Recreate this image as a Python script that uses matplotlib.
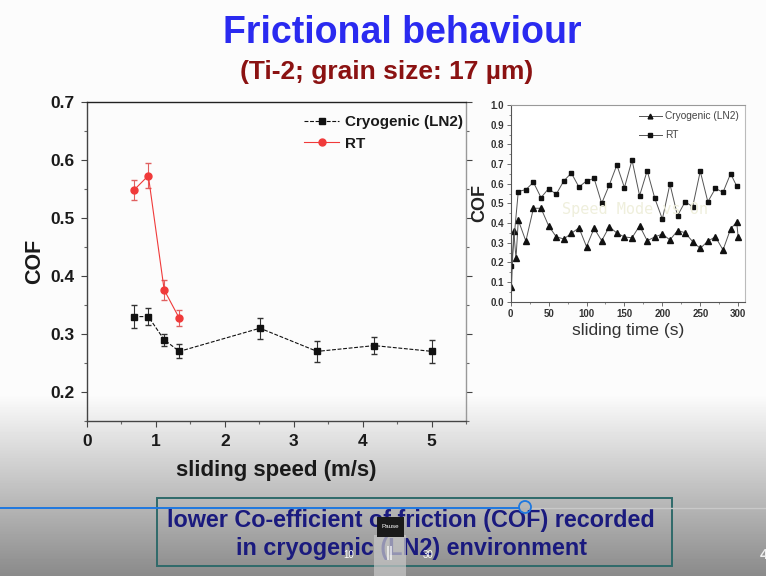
import numpy as np
import matplotlib
matplotlib.use("Agg")
import matplotlib.pyplot as plt
from matplotlib.patches import Rectangle, Circle
from matplotlib.lines import Line2D
from matplotlib.ticker import MultipleLocator, FormatStrFormatter

plt.rcParams['font.family'] = ['Liberation Sans', 'DejaVu Sans']

# ---- COF vs sliding speed ----
speed_cryo = [0.68, 0.89, 1.12, 1.34, 2.51, 3.34, 4.17, 5.01]
cof_cryo = [0.33, 0.33, 0.29, 0.27, 0.31, 0.27, 0.28, 0.27]
err_cryo = [0.020, 0.014, 0.010, 0.012, 0.018, 0.018, 0.015, 0.020]

speed_rt = [0.68, 0.89, 1.12, 1.34]
cof_rt = [0.548, 0.573, 0.376, 0.327]
err_rt = [0.017, 0.022, 0.017, 0.014]

# ---- COF vs sliding time ----
time_rt = [1, 10, 20, 30, 40, 50, 60, 70, 80, 90, 100, 110, 120, 130, 140, 150,
           160, 170, 180, 190, 200, 210, 220, 230, 240, 250, 260, 270, 280, 290, 298]
cof_t_rt = [0.18, 0.56, 0.57, 0.607, 0.529, 0.575, 0.546, 0.614, 0.654, 0.583,
            0.614, 0.627, 0.50, 0.593, 0.695, 0.58, 0.72, 0.539, 0.666, 0.526,
            0.42, 0.598, 0.437, 0.508, 0.483, 0.663, 0.508, 0.576, 0.556, 0.651, 0.588]

time_cryo = [1, 4, 7, 10, 20, 30, 40, 50, 60, 70, 80, 90, 100, 110, 120, 130, 140,
             150, 160, 170, 180, 190, 200, 210, 220, 230, 240, 250, 260, 270, 280,
             290, 298, 300]
cof_t_cryo = [0.075, 0.36, 0.22, 0.415, 0.308, 0.475, 0.475, 0.386, 0.33, 0.319,
              0.347, 0.376, 0.28, 0.373, 0.31, 0.381, 0.349, 0.329, 0.325, 0.386,
              0.31, 0.329, 0.344, 0.314, 0.361, 0.351, 0.305, 0.271, 0.308, 0.33,
              0.263, 0.37, 0.405, 0.33]

W, H = 766, 576
fig = plt.figure(figsize=(W / 100, H / 100), dpi=100)

# slide background with darkening band at the bottom
bg = fig.add_axes([0, 0, 1, 1], zorder=-10)
rows = np.arange(H)
shade = np.clip((rows - 395) * 0.0025, 0, 0.46)
img = np.repeat((0.985 * (1 - shade))[:, None], W, axis=1)
bg.imshow(img, cmap='gray', vmin=0, vmax=1, extent=[0, W, H, 0], aspect='auto')
bg.set_xlim(0, W)
bg.set_ylim(H, 0)
bg.axis('off')


def fx(px):
    return px / W


def fy(py):
    return 1 - py / H


# titles
fig.text(fx(402), fy(33), 'Frictional behaviour', color='#2a2af0', fontsize=27,
         fontweight='bold', ha='center', va='center')
fig.text(fx(387), fy(72), '(Ti-2; grain size: 17 µm)', color='#8b1212', fontsize=19,
         fontweight='bold', ha='center', va='center')

# ---- main panel ----
ax = fig.add_axes([fx(87), fy(421), fx(466) - fx(87), fy(102) - fy(421)])
ax.patch.set_alpha(0)
cryo_ls = (0, (3.5, 1.5))
rt_color = '#f03a3a'
ax.errorbar(speed_cryo, cof_cryo, yerr=err_cryo, color='#111111', ls=cryo_ls,
            lw=0.8, marker='s', ms=5, capsize=2.5, elinewidth=0.8, ecolor='#333333')
ax.errorbar(speed_rt, cof_rt, yerr=err_rt, color=rt_color, ls='-', lw=0.8,
            marker='o', ms=5, capsize=2.5, elinewidth=0.8, ecolor='#e06060')
ax.set_xlim(0, 5.5)
ax.set_ylim(0.15, 0.7)
ax.xaxis.set_major_locator(MultipleLocator(1))
ax.xaxis.set_minor_locator(MultipleLocator(0.5))
ax.yaxis.set_major_locator(MultipleLocator(0.1))
ax.yaxis.set_minor_locator(MultipleLocator(0.05))
ax.yaxis.set_major_formatter(FormatStrFormatter('%.1f'))
ax.tick_params(which='major', direction='out', length=4, width=0.8, color='#444444',
               labelsize=12.5, pad=5, labelcolor='#1a1a1a')
ax.tick_params(which='minor', direction='out', length=2.5, width=0.8, color='#666666')
ax.tick_params(axis='y', which='both', right=True, labelright=False)
for lab in ax.get_xticklabels() + ax.get_yticklabels():
    lab.set_fontweight('bold')
ax.spines['left'].set_color('#444444')
ax.spines['bottom'].set_color('#444444')
ax.spines['top'].set_color('#222222')
ax.spines['right'].set_color('#999999')
for s in ax.spines.values():
    s.set_linewidth(1.0)
ax.set_ylabel('COF', fontsize=15.5, fontweight='bold', labelpad=4, color='#1a1a1a')
ax.set_xlabel('sliding speed (m/s)', fontsize=16, fontweight='bold', labelpad=8,
              color='#1a1a1a')
handles = [Line2D([], [], color='#111111', ls=cryo_ls, lw=0.8, marker='s', ms=5),
           Line2D([], [], color=rt_color, ls='-', lw=0.8, marker='o', ms=5)]
leg = ax.legend(handles, ['Cryogenic (LN2)', 'RT'], loc='upper left',
                bbox_to_anchor=(fx(304), fy(115)), bbox_transform=fig.transFigure,
                frameon=False, fontsize=11, handlelength=2.3, handletextpad=0.4,
                labelspacing=0.5, borderpad=0, borderaxespad=0)
for t in leg.get_texts():
    t.set_fontweight('bold')
    t.set_color('#1a1a1a')

# ---- inset panel: COF vs sliding time ----
ins = fig.add_axes([fx(510.7), fy(301.7), fx(745) - fx(510.7), fy(105) - fy(301.7)])
ins.set_facecolor('white')
ins.plot(time_cryo, cof_t_cryo, color='#555555', lw=0.7, marker='^', ms=4.3,
         mfc='#111111', mec='#111111', label='Cryogenic (LN2)')
ins.plot(time_rt, cof_t_rt, color='#555555', lw=0.7, marker='s', ms=3.5,
         mfc='#111111', mec='#111111', label='RT')
ins.set_xlim(0, 309)
ins.set_ylim(0, 1.0)
ins.xaxis.set_major_locator(MultipleLocator(50))
ins.xaxis.set_minor_locator(MultipleLocator(25))
ins.yaxis.set_major_locator(MultipleLocator(0.1))
ins.yaxis.set_minor_locator(MultipleLocator(0.05))
ins.yaxis.set_major_formatter(FormatStrFormatter('%.1f'))
ins.tick_params(which='major', direction='out', length=3, width=0.6, color='#555555',
                labelsize=7, pad=2, labelcolor='#333333')
ins.tick_params(which='minor', direction='out', length=1.5, width=0.6, color='#777777')
for lab in ins.get_xticklabels() + ins.get_yticklabels():
    lab.set_fontweight('bold')
ins.spines['left'].set_color('#555555')
ins.spines['bottom'].set_color('#555555')
ins.spines['top'].set_color('#999999')
ins.spines['right'].set_color('#bbbbbb')
for s in ins.spines.values():
    s.set_linewidth(0.8)
ins.set_ylabel('COF', fontsize=13, fontweight='bold', labelpad=1, color='#222222')
ins.set_xlabel('sliding time (s)', fontsize=12.5, labelpad=3, color='#333333')
ins.text(0.53, 0.47, 'Speed Mode vs On', transform=ins.transAxes, fontsize=11,
         family='DejaVu Sans Mono', color='#efefdc', ha='center', va='center')
leg2 = ins.legend(loc='upper right', frameon=False, fontsize=7.3, handlelength=2.3,
                  handletextpad=0.3, labelspacing=0.9, borderpad=0.4,
                  borderaxespad=0.2, markerscale=0.8)
for t in leg2.get_texts():
    t.set_color('#444444')

# ---- caption box ----
bg.add_patch(Rectangle((157, 498), 515, 68, fill=False, ec='#2f6a6a', lw=1.4, zorder=3))
bg.text(411, 520, 'lower Co-efficient of friction (COF) recorded', color='#1a1a7e',
        fontsize=16.8, fontweight='bold', ha='center', va='center', zorder=4)
bg.text(411, 548, 'in cryogenic (LN2) environment', color='#1a1a7e',
        fontsize=16.8, fontweight='bold', ha='center', va='center', zorder=4)

# ---- playback bar overlay ----
bg.plot([0, 519], [508, 508], color='#1e78e0', lw=1.4, zorder=5)
bg.plot([531, W], [508, 508], color='#c9c9c9', lw=1.0, zorder=5)
bg.add_patch(Circle((525, 507), 6, fill=False, ec='#1e78e0', lw=1.3, zorder=6))
bg.add_patch(Rectangle((374, 535), 32, 41, fc='#c8c8c8', ec='none', alpha=0.7, zorder=5))
bg.add_patch(Rectangle((377, 517), 27, 20, fc='#1a1a1a', ec='none', zorder=6))
bg.text(390.5, 527, 'Pause', color='white', fontsize=4.5, ha='center', va='center', zorder=7)
bg.text(390, 553, '||', color='white', fontsize=11, ha='center', va='center', zorder=7)
bg.text(349, 555, '10', color='white', fontsize=7, ha='center', va='center', zorder=7)
bg.text(428, 555, '30', color='white', fontsize=7, ha='center', va='center', zorder=7)
bg.text(760, 555, '4', color='#eeeeee', fontsize=11, fontweight='bold', ha='left',
        va='center', zorder=7)

fig.savefig('out.png', dpi=100)
